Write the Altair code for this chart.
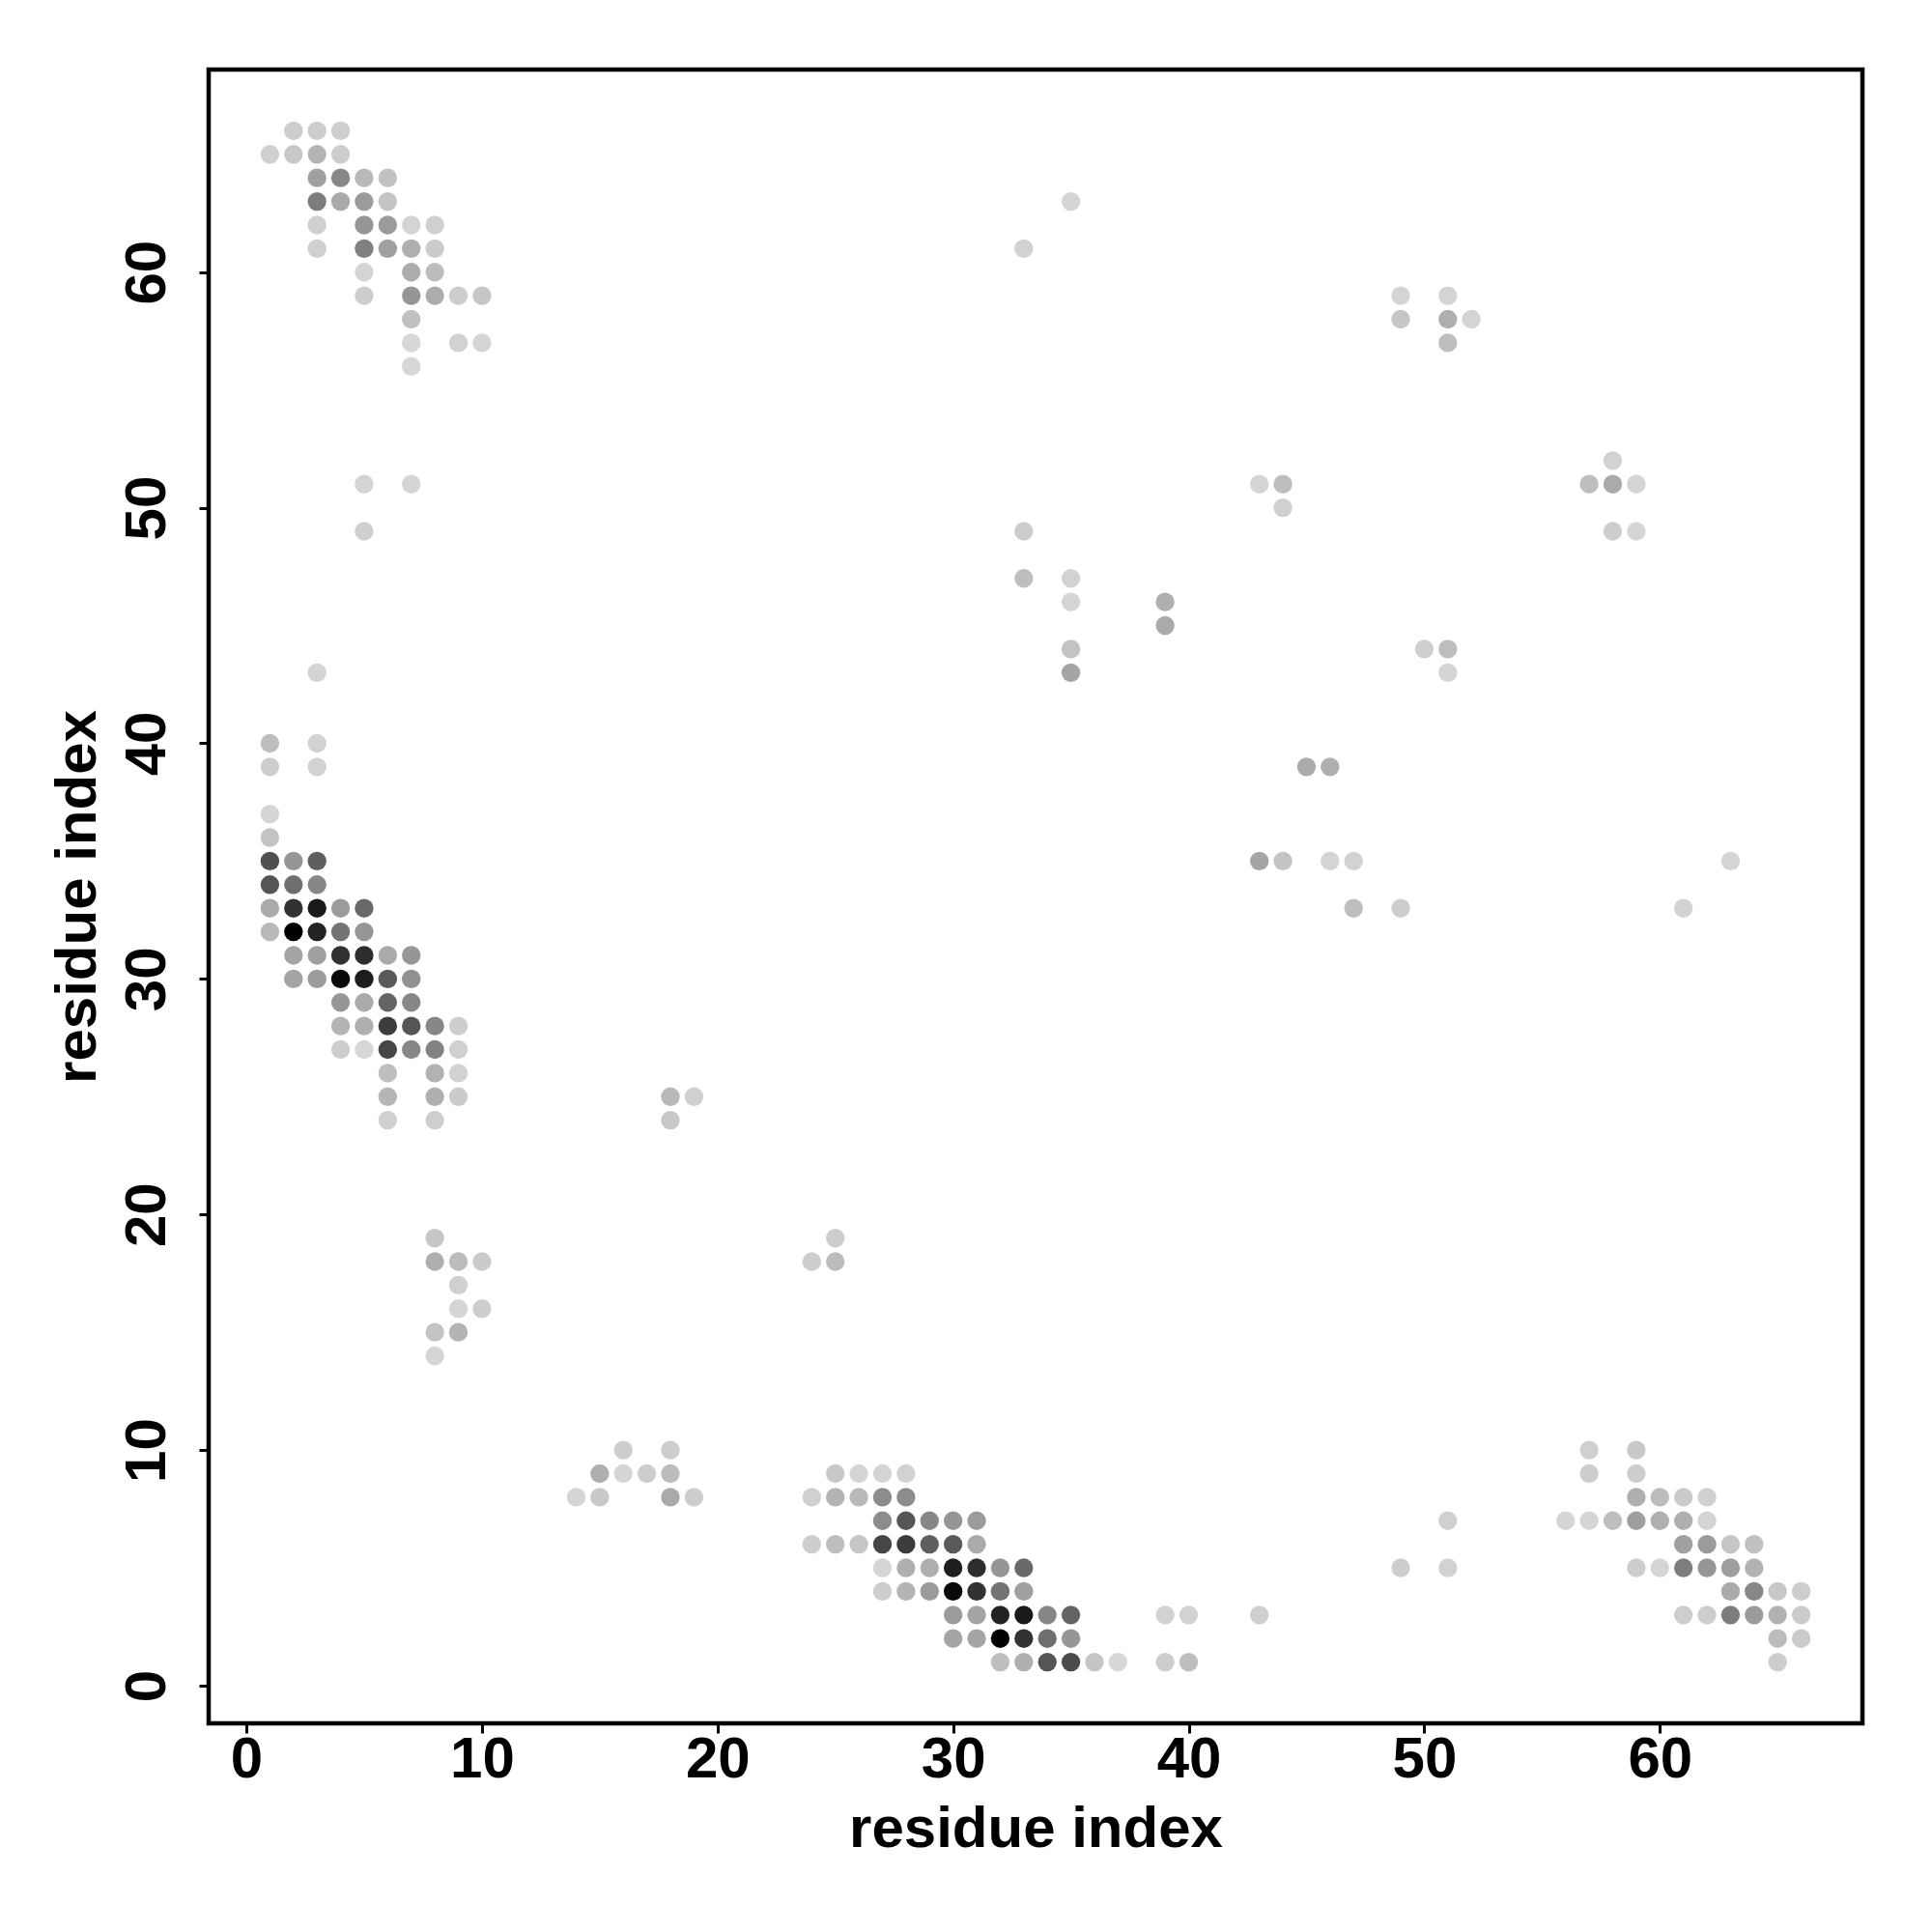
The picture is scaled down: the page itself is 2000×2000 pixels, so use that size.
import altair as alt
import pandas as pd

# residue pairs, one source line per row of the map
res_i = [
    2,3,4,  1,2,3,4,  3,4,5,6,  3,4,5,6,  3,5,6,7,8,  3,5,6,7,8,  5,7,8,  5,7,8,9,10,  7,  7,9,10,  7,
    5,7,  5,  3,  1,3,  1,3,  1,  1,
    1,2,3,  1,2,3,  1,2,3,4,5,  1,2,3,4,5,  2,3,4,5,6,7,  2,3,4,5,6,7,  4,5,6,7,  4,5,6,7,8,9,  4,5,6,7,8,9,
    6,8,9,  6,8,9,  6,8,  18,19,  18,
    8,25,  8,9,10,24,25,  9,  9,10,  8,9,  8,
    16,18,57,59,  15,16,17,18,25,26,27,28,57,59,  14,15,18,19,24,25,26,27,28,59,60,61,62,
    27,28,29,30,31,51,56,57,58,59,60,61,62,  24,25,26,27,28,29,30,31,61,62,63,64,
    27,28,29,30,31,32,33,49,51,59,60,61,62,63,64,  27,28,29,30,31,32,33,63,64,65,66,
    30,31,32,33,34,35,39,40,43,61,62,63,64,65,66,  30,31,32,33,34,35,65,66,
    32,33,34,35,36,37,39,40,65,
    35,  33,  49,51,  49,51,52,  51,  43,44,  44,  33,  33,35,  35,39,  39,  35,50,51,  35,51,
    58,  57,58,59,  58,59,  63,  61,
    45,46,  43,44,46,47,  47,49,
]
res_j = [
    66,66,66,  65,65,65,65,  64,64,64,64,  63,63,63,63,  62,62,62,62,62,  61,61,61,61,61,  60,60,60,  59,59,59,59,59,  58,  57,57,57,  56,
    51,51,  49,  43,  40,40,  39,39,  37,  36,
    35,35,35,  34,34,34,  33,33,33,33,33,  32,32,32,32,32,  31,31,31,31,31,31,  30,30,30,30,30,30,  29,29,29,29,  28,28,28,28,28,28,  27,27,27,27,27,27,
    26,26,26,  25,25,25,  24,24,  25,25,  24,
    19,19,  18,18,18,18,18,  17,  16,16,  15,15,  14,
    10,10,10,10,  9,9,9,9,9,9,9,9,9,9,  8,8,8,8,8,8,8,8,8,8,8,8,8,
    7,7,7,7,7,7,7,7,7,7,7,7,7,  6,6,6,6,6,6,6,6,6,6,6,6,
    5,5,5,5,5,5,5,5,5,5,5,5,5,5,5,  4,4,4,4,4,4,4,4,4,4,4,
    3,3,3,3,3,3,3,3,3,3,3,3,3,3,3,  2,2,2,2,2,2,2,2,
    1,1,1,1,1,1,1,1,1,
    63,  61,  59,59,  58,58,58,  57,  51,51,  50,  49,  47,47,  46,46,  45,  44,44,44,  43,43,
    52,  51,51,51,  49,49,  35,  33,
    39,39,  35,35,35,35,  33,33,
]
shade = [
    205,205,207,  208,200,180,205,  160,135,185,193,  125,170,155,197,  208,150,155,212,208,  208,128,160,175,203,  212,172,188,  205,150,172,205,198,  192,  215,210,213,  215,
    212,213,  207,  212,  190,210,  205,210,  213,  195,
    80,150,95,  85,110,135,  170,50,25,155,105,  185,0,35,115,150,  165,160,50,45,170,150,  165,155,10,30,90,145,  150,170,100,135,  180,175,60,85,135,205,  205,215,70,135,130,208,
    190,178,210,  182,175,203,  208,206,  185,208,  200,
    198,205,  175,188,203,205,188,  208,  213,205,  195,180,  213,
    205,205,208,200,  175,213,205,188,200,213,212,210,205,205,  213,200,170,205,208,180,185,140,140,175,188,203,208,
    140,85,135,150,155,208,213,213,190,158,175,175,212,  205,190,198,70,60,95,90,170,160,155,198,192,
    213,175,175,30,45,150,105,205,210,205,213,125,150,158,178,  205,180,155,10,50,115,160,170,135,200,205,
    155,165,35,25,135,100,210,210,207,205,205,125,155,178,203,  165,165,0,50,110,150,188,203,
    190,175,85,75,197,215,205,190,205,
    213,  210,  212,212,  198,175,212,  190,  213,190,  208,  205,  190,210,  213,175,  170,  195,207,190,  165,213,
    210,  190,170,213,  205,213,  213,  210,
    170,175,  165,195,212,210,  190,205,
]
axis_ticks = [0, 10, 20, 30, 40, 50, 60]
axis_domain = [-1.6, 68.6]
axis_title = "residue index"

df = pd.DataFrame({"i": res_i, "j": res_j, "shade": shade})
FONT = "Liberation Sans"

common = dict(
    values=axis_ticks, grid=False, domain=False, title=axis_title, format="d",
    tickColor="black", tickWidth=3, tickSize=10,
    labelColor="black", labelFont=FONT, labelFontWeight="bold", labelFontSize=60,
    titleColor="black", titleFont=FONT, titleFontWeight="bold", titleFontSize=60,
    labelOverlap=False, labelFlush=False, titleBaseline="alphabetic",
)

chart = (
    alt.Chart(df)
    .mark_point(filled=True, shape="circle", size=375, opacity=1)
    .encode(
        x=alt.X("i:Q", scale=alt.Scale(domain=axis_domain, nice=False, zero=False),
                axis=alt.Axis(labelPadding=45, labelBaseline="alphabetic", labelAngle=0,
                              titleY=127, **common)),
        y=alt.Y("j:Q", scale=alt.Scale(domain=axis_domain, nice=False, zero=False),
                axis=alt.Axis(labelPadding=36, labelBaseline="alphabetic", labelAlign="center",
                              labelAngle=270, titleAngle=270, titleX=-118, **common)),
        color=alt.Color("shade:Q", legend=None,
                        scale=alt.Scale(domain=[0, 255], range=["#000000", "#ffffff"],
                                        interpolate="rgb")),
    )
    .properties(
        width=1712, height=1712,
        autosize=alt.AutoSizeParams(type="none", contains="content"),
        padding={"left": 208, "top": 64, "right": 64, "bottom": 208},
        background="white",
    )
    .configure_view(stroke="black", strokeWidth=4.5)
)

assert len(res_i) == len(res_j) == len(shade)
chart.save("out.html", embed_options={"renderer": "svg", "actions": False})
